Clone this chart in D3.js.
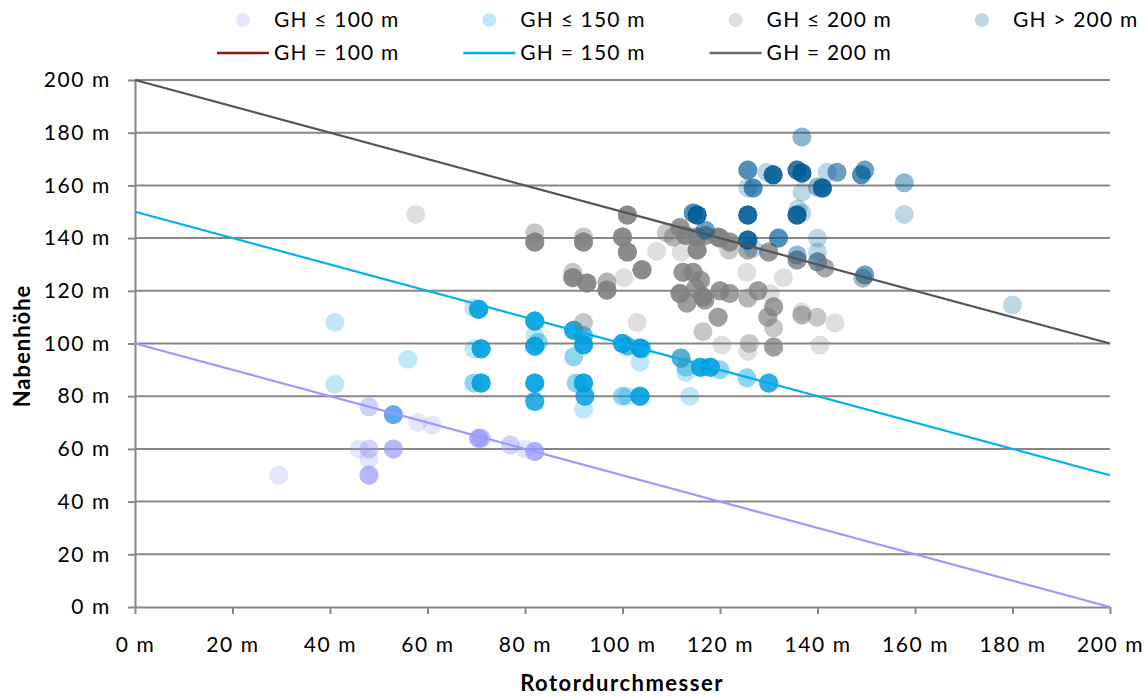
<!DOCTYPE html>
<html>
<head>
<meta charset="utf-8">
<script src="https://cdn.jsdelivr.net/npm/d3@7"></script>
<style>
body { margin: 0; background: #fff; }
text { font-family: Lato, 'Open Sans', sans-serif; fill: #000; }
</style>
</head>
<body>
<svg id="chart" width="1147" height="697"></svg>
<script>
'use strict';

// [Rotordurchmesser, Nabenhöhe, Anzahl]
var gh100 = [
	[29.5, 50, 1], [46, 60, 1], [48, 60, 2], [48, 56, 1], [48, 50, 4], [48, 76, 2],
	[53, 73, 5], [53, 60, 4], [58, 70, 1], [61, 69, 1], [70.5, 64, 5], [71, 64, 3],
	[77, 61.5, 2], [80, 60, 1], [82, 59, 5]
];
var gh150 = [
	[41, 108, 1], [56, 94, 1], [41, 84.5, 1], [53, 73, 2],
	[70.5, 113, 8], [69.5, 113.5, 1], [71, 98, 8], [69.5, 98, 1], [71, 85, 8], [69.5, 85, 2],
	[82, 108.5, 8], [82, 99, 8], [82, 103, 1], [82.7, 100.5, 2], [82, 85, 8], [82, 78, 6],
	[90, 105, 8], [92, 103, 4], [92, 99.5, 8], [90, 95, 2], [90.5, 85, 2], [92, 85, 8],
	[92.3, 80, 6], [92, 75, 1],
	[100, 100, 8], [101, 99, 4], [103.6, 98.3, 8], [104, 98, 3], [103.6, 93, 1],
	[100, 80, 2], [101, 80, 1], [103.6, 80, 8],
	[112, 94.5, 4], [113, 91, 2], [113, 89, 1], [116, 91, 8], [118, 91, 8], [113.8, 80, 1],
	[120, 90, 2], [125.5, 87, 2], [130, 85, 6]
];
var gh200 = [
	[57.6, 149, 1], [82, 142, 2], [82, 138.5, 8], [92, 140.4, 2], [92, 138.5, 8],
	[101, 148.8, 8], [100, 140.4, 8], [101, 134.7, 8], [107, 135, 1],
	[89.8, 127, 2], [89.8, 125, 8], [92.7, 123, 8], [96.8, 123.3, 3], [96.8, 120.3, 8],
	[100.3, 125, 1], [104, 128, 8], [92, 108, 2], [103, 108, 1],
	[109, 142, 2], [110.4, 140.4, 3], [111.8, 144, 6], [113, 141, 8], [115.3, 140.4, 8],
	[115.3, 135.5, 8], [117, 141, 6], [119.6, 140.4, 6], [122, 138.5, 6], [120, 140, 6],
	[121.7, 135.5, 1], [125.7, 135.5, 4], [130, 134.7, 6], [135.8, 131.7, 6], [140, 131, 4],
	[141.5, 128.7, 4], [149.3, 124.8, 3],
	[112.4, 127, 6], [114.5, 127, 6], [116, 124, 5], [115, 121, 5], [111.8, 119, 8],
	[116.5, 117.6, 8], [113.2, 115.4, 5], [116.9, 116.5, 5], [120, 120, 6], [122, 119, 5],
	[127.8, 120, 5], [125.7, 117.3, 3], [131, 113.9, 5], [119.6, 110, 5], [116.5, 104.5, 2],
	[129.8, 110, 4], [131, 106, 2], [131, 98.7, 5], [136.8, 110.8, 3], [139.9, 110, 2],
	[112, 94.5, 1],
	[125.5, 127, 1], [133, 125, 1], [130.3, 119, 1], [120.4, 99.4, 1], [126, 100, 2],
	[125.7, 97, 1], [140.5, 99.4, 1], [143.6, 107.8, 1], [136.8, 112, 1], [122, 135.5, 1],
	[112, 134.7, 1]
];
var ghOver200 = [
	[136.8, 178.4, 2], [125.7, 165.8, 4], [129.6, 165, 1], [130.9, 164, 8], [135.8, 165.8, 6],
	[136.8, 164.7, 8], [142, 165, 1], [144, 165, 3], [149, 164, 4], [149.7, 165.8, 3],
	[157.8, 161, 2], [125.7, 159, 1], [126.8, 159, 4], [136.8, 157.5, 1], [140, 159.4, 2],
	[141, 159, 8], [115.3, 148.8, 8], [114.5, 149.5, 4], [125.7, 148.8, 8], [135.8, 148.8, 8],
	[136.8, 149.5, 1], [136, 151, 1], [157.8, 149, 1], [117, 143, 3], [125.7, 139.3, 8],
	[126.8, 136, 1], [132, 140, 4], [140, 140, 1], [135.8, 133.6, 2], [140, 134.7, 1],
	[140, 131, 1], [149.7, 126, 3], [180, 114.6, 1]
];

var seriesNames = ['GH ≤ 100 m', 'GH ≤ 150 m', 'GH ≤ 200 m', 'GH > 200 m'];
var seriesColors = ['#9999ff', '#00a0e0', '#808080', '#005a96'];

// reference lines: constant total height
var line100 = [[0, 100], [200, 0]];
var line150 = [[0, 150], [200, 50]];
var line200 = [[0, 200], [200, 100]];
var lineNames = ['GH = 100 m', 'GH = 150 m', 'GH = 200 m'];
var lineColors = ['#9999ff', '#00b0f0', '#555555'];
var lineLegendColors = ['#8b1a1a', '#00b0f0', '#666666'];

var xTicks = [0, 20, 40, 60, 80, 100, 120, 140, 160, 180, 200];
var yTicks = [0, 20, 40, 60, 80, 100, 120, 140, 160, 180, 200];

var svg = d3.select('#chart');
var x = d3.scaleLinear().domain([0, 200]).range([135, 1110]);
var y = d3.scaleLinear().domain([0, 200]).range([607, 80]);
var gridColor = '#878787';

// gridlines
svg.append('g')
	.selectAll('line')
	.data(yTicks.slice(1))
	.enter().append('line')
	.attr('x1', x(0)).attr('x2', x(200))
	.attr('y1', function(d) { return y(d); })
	.attr('y2', function(d) { return y(d); })
	.attr('stroke', gridColor)
	.attr('stroke-width', 2);

// axes
var xAxis = svg.append('g')
	.attr('transform', 'translate(0,' + y(0) + ')')
	.call(d3.axisBottom(x).tickValues(xTicks).tickSize(7).tickSizeOuter(0).tickPadding(23)
		.tickFormat(function(d) { return d + ' m'; }));
var yAxis = svg.append('g')
	.attr('transform', 'translate(' + x(0) + ',0)')
	.call(d3.axisLeft(y).tickValues(yTicks).tickSize(7).tickSizeOuter(0).tickPadding(17)
		.tickFormat(function(d) { return d + ' m'; }));

[xAxis, yAxis].forEach(function(ax) {
	ax.selectAll('path, line').attr('stroke', gridColor).attr('stroke-width', 2);
	ax.selectAll('text')
		.attr('font-size', 21)
		.attr('letter-spacing', 1.6)
		.attr('font-family', 'Lato, sans-serif')
		.attr('fill', '#000');
});

// scatter points, one circle per turbine
var seriesData = [gh100, gh150, gh200, ghOver200];
seriesData.forEach(function(series, i) {
	var pts = [];
	series.forEach(function(p) {
		for (var k = 0; k < p[2]; k++) pts.push(p);
	});
	svg.append('g')
		.selectAll('circle')
		.data(pts)
		.enter().append('circle')
		.attr('cx', function(d) { return x(d[0]); })
		.attr('cy', function(d) { return y(d[1]); })
		.attr('r', 9.5)
		.attr('fill', seriesColors[i])
		.attr('fill-opacity', 0.25);
});

// GH lines
var line = d3.line()
	.x(function(d) { return x(d[0]); })
	.y(function(d) { return y(d[1]); });
[line100, line150, line200].forEach(function(l, i) {
	svg.append('path')
		.attr('d', line(l))
		.attr('fill', 'none')
		.attr('stroke', lineColors[i])
		.attr('stroke-width', 2.2);
});

// legend
var legend = svg.append('g').attr('font-size', 21).attr('letter-spacing', 1.2);
seriesNames.forEach(function(name, i) {
	var lx = 243 + i * 246.3;
	legend.append('circle')
		.attr('cx', lx).attr('cy', 20).attr('r', 7)
		.attr('fill', seriesColors[i]).attr('fill-opacity', 0.25);
	legend.append('text')
		.attr('x', lx + 31).attr('y', 20).attr('dy', '0.35em')
		.text(name);
});
lineNames.forEach(function(name, i) {
	var lx = 217 + i * 246.3;
	legend.append('line')
		.attr('x1', lx).attr('x2', lx + 52)
		.attr('y1', 53).attr('y2', 53)
		.attr('stroke', lineLegendColors[i]).attr('stroke-width', 2.5);
	legend.append('text')
		.attr('x', lx + 57).attr('y', 53).attr('dy', '0.35em')
		.text(name);
});

// axis titles
svg.append('text')
	.attr('x', 622).attr('y', 683).attr('dy', '0.35em')
	.attr('text-anchor', 'middle')
	.attr('font-size', 22).attr('font-weight', 'bold')
	.attr('letter-spacing', 1.5)
	.text('Rotordurchmesser');
svg.append('text')
	.attr('transform', 'translate(22,346) rotate(-90)')
	.attr('dy', '0.35em')
	.attr('text-anchor', 'middle')
	.attr('font-size', 22).attr('font-weight', 'bold')
	.attr('letter-spacing', 1)
	.text('Nabenhöhe');
</script>
</body>
</html>
